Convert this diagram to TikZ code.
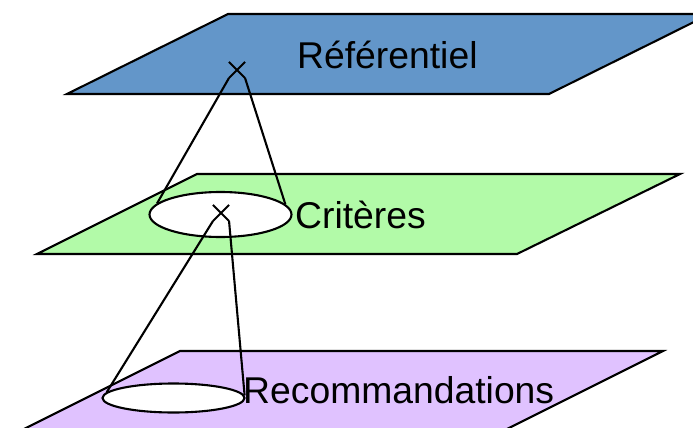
\documentclass[tikz,border=0pt]{standalone}
\usepackage{fontspec}
\setmainfont{Liberation Sans}
\usetikzlibrary{shapes.geometric,shapes.misc,positioning}

\definecolor{refblue}{RGB}{99,150,201}
\definecolor{critgreen}{RGB}{178,250,168}
\definecolor{recpurple}{RGB}{224,194,255}

\begin{document}
\begin{tikzpicture}[
    x=1pt, y=-1pt,
    plane/.style={draw, line width=2.1pt, line join=miter},
    disc/.style={ellipse, draw, fill=white, line width=2.1pt, inner sep=0pt,
                 minimum width=142pt},
    marker/.style={cross out, draw, line width=2.1pt, inner sep=0pt,
                   minimum size=14pt},
    cone/.style={line width=2.1pt},
    layername/.style={anchor=base west, inner sep=0pt,
                      font=\fontsize{37.3}{40}\selectfont}
]
\clip (0,0) rectangle (693,428);

% the three layers
\draw[plane, fill=refblue]   (67,94)  -- (228,14)  -- (710,14)  -- (549,94)  -- cycle;
\draw[plane, fill=critgreen] (37,254) -- (197,174) -- (680,174) -- (517,254) -- cycle;
\draw[plane, fill=recpurple] (20,431) -- (180,351) -- (663,351) -- (503,431) -- cycle;

% footprints and apexes
\node[disc, minimum height=45pt] (critdisc) at (220.5,214.5) {};
\node[disc, minimum height=29pt] (recdisc)  at (173.5,398) {};
\node[marker] (refx)  at (237,70) {};
\node[marker] (critx) at (221,213) {};

% cones
\draw[cone] (refx.south west)  -- (critdisc.170);
\draw[cone] (refx.south east)  -- (critdisc.9);
\draw[cone] (critx.south west) -- (recdisc.175);
\draw[cone] (critx.south east) -- (recdisc.2);

\node[layername] (reftext)  at (297,69)  {Référentiel};
\node[layername] (crittext) at (295,228) {Critères};
\node[layername] (rectext)  at (243,403) {Recommandations};
\end{tikzpicture}
\end{document}
